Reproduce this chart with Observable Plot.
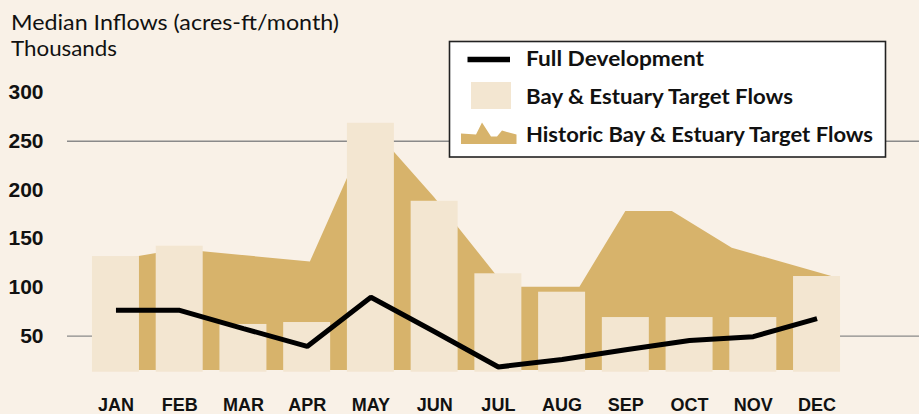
<!DOCTYPE html>
<html>
<head>
<meta charset="utf-8">
<script src="https://cdn.jsdelivr.net/npm/d3@7"></script>
<script src="https://cdn.jsdelivr.net/npm/@observablehq/plot@0.6"></script>
<style>
  html, body { margin: 0; padding: 0; background: #F9F1E7; }
  #wrap { position: relative; width: 919px; height: 414px; overflow: hidden; }
  #overlay { position: absolute; left: 0; top: 0; pointer-events: none; }
</style>
</head>
<body>
<div id="wrap">
  <div id="chart"></div>
  <svg id="overlay" width="919" height="414" xmlns="http://www.w3.org/2000/svg">
    <g font-family="'Lato', 'Open Sans', sans-serif" fill="#111">
      <text x="11" y="30" font-size="21" textLength="328" lengthAdjust="spacingAndGlyphs">Median Inflows (acres-ft/month)</text>
      <text x="11" y="56" font-size="21" textLength="106" lengthAdjust="spacingAndGlyphs">Thousands</text>
    </g>
    <g id="legend">
      <rect x="449.5" y="41.5" width="436" height="115.5" fill="#ffffff" stroke="#222" stroke-width="1.6"></rect>
      <line x1="467.5" y1="59.5" x2="510" y2="59.5" stroke="#000" stroke-width="5.5"></line>
      <rect x="471" y="82" width="40" height="27" fill="#F3E6D1"></rect>
      <polygon points="461,144 461,133.5 476,134.5 482,122.5 491,136.5 497,136.5 502,130.5 507,132 516.5,134.5 516.5,144" fill="#D7B36B"></polygon>
      <g font-family="'Lato', 'Open Sans', sans-serif" font-weight="700" font-size="20" fill="#111">
        <text x="526" y="66" textLength="178" lengthAdjust="spacingAndGlyphs">Full Development</text>
        <text x="526" y="104" textLength="267" lengthAdjust="spacingAndGlyphs">Bay &amp; Estuary Target Flows</text>
        <text x="526" y="141.5" textLength="347" lengthAdjust="spacingAndGlyphs">Historic Bay &amp; Estuary Target Flows</text>
      </g>
    </g>
  </svg>
</div>
<script>
// ---- data (thousands of acre-ft / month) ----
const months = ["JAN","FEB","MAR","APR","MAY","JUN","JUL","AUG","SEP","OCT","NOV","DEC"];
const targetFlows = [131.7, 142.3, 62, 64, 268.4, 188.4, 114, 95.1, 69.1, 69.1, 69.1, 111.2];
const fullDevelopment = [76.5, 76.5, 57.8, 39.5, 90, 54.5, 18.4, 26, 36, 45.5, 49.5, 68];
// historic outline vertices: position in month units (JAN = 0) and value
const historicPos = [0, 1, 3.05, 4, 5, 6, 6.36, 7.28, 8, 8.73, 9.67, 11.3];
const historicFlows = [127.6, 139, 126, 266, 192, 110, 100.3, 100.3, 178, 178, 140.2, 110];
const yTicks = [50, 100, 150, 200, 250, 300];
const gridValues = [50, 250];
const barBase = 13;
const areaBase = 14.8;

const barData = months.map((m, i) => ({i, month: m, value: targetFlows[i]}));
const lineData = months.map((m, i) => ({i, month: m, value: fullDevelopment[i]}));
const areaData = historicPos.map((p, k) => ({pos: p, value: historicFlows[k]}));

const halfBar = 0.3686; // bar half-width in month units

const chart = Plot.plot({
  width: 919,
  height: 414,
  marginLeft: 83.6,
  marginRight: 70.6,
  marginTop: 92,
  marginBottom: 29.6,
  style: {background: "transparent", overflow: "visible"},
  x: {type: "linear", domain: [-0.5, 11.5]},
  y: {domain: [0, 300]},
  marks: [
    Plot.ruleY(gridValues, {stroke: "#8a8a8a", strokeWidth: 1.4, insetLeft: -16.6, insetRight: -70.6}),
    Plot.areaY(areaData, {x: "pos", y1: areaBase, y2: "value", fill: "#D7B36B", curve: "linear"}),
    Plot.rectY(barData, {x1: d => d.i - halfBar, x2: d => d.i + halfBar, y1: barBase, y2: "value", fill: "#F3E6D1"}),
    Plot.line(lineData, {x: "i", y: "value", stroke: "#000", strokeWidth: 5, strokeLinejoin: "miter", strokeLinecap: "butt"}),
    Plot.axisY(yTicks, {tickSize: 0, tickPadding: 40.6, fontSize: 21, fontWeight: "bold", fontFamily: "'Liberation Sans', Arial, sans-serif", fill: "#111", label: null}),
    Plot.axisX(d3.range(12), {tickSize: 0, tickPadding: 13.8, tickFormat: i => months[i], fontSize: 18, fontWeight: "bold", fontFamily: "'Liberation Sans', Arial, sans-serif", fill: "#111", label: null})
  ]
});
document.getElementById("chart").appendChild(chart);
</script>
</body>
</html>
